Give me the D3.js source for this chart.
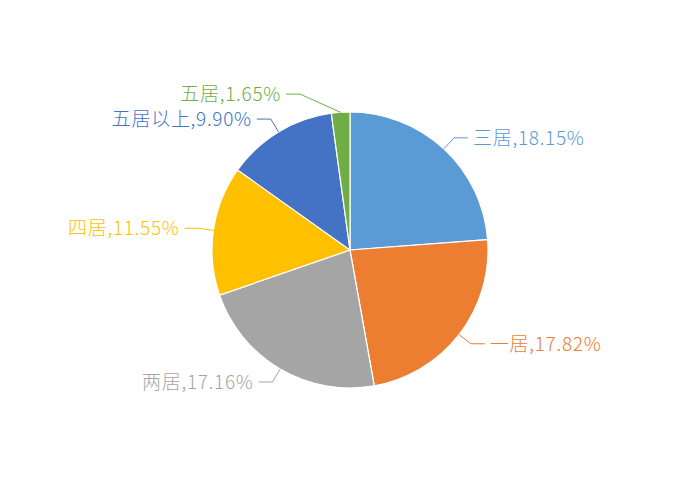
<!DOCTYPE html>
<html>
<head>
<meta charset="utf-8">
<script src="https://cdn.jsdelivr.net/npm/d3@7"></script>
<style>
  body { margin: 0; background: #fff; }
  svg text { font-family: "Noto Sans CJK SC", "Microsoft YaHei", sans-serif; font-weight: 300; }
</style>
</head>
<body>
<svg id="pie" width="700" height="500"></svg>
<script>
var categories = ['三居', '一居', '两居', '四居', '五居以上', '五居'];
var shares = [18.15, 17.82, 17.16, 11.55, 9.90, 1.65];
var colors = ['#5B9BD5', '#ED7D31', '#A5A5A5', '#FFC000', '#4472C4', '#70AD47'];

function drawPie(){
	var svg = d3.select('#pie');
	var cx = 350, cy = 250, r = 138;

	var pie = d3.pie().sort(null).value(d => d.v);
	var arc = d3.arc().innerRadius(0).outerRadius(r);

	var rows = categories.map((c, i) => ({name: c, v: shares[i], color: colors[i]}));
	var arcs = pie(rows);

	var g = svg.append('g').attr('transform', 'translate(' + cx + ',' + cy + ')');

	g.selectAll('path')
		.data(arcs)
		.enter()
		.append('path')
			.attr('d', arc)
			.attr('fill', d => d.data.color)
			.attr('stroke', '#fff')
			.attr('stroke-width', 1.2);

	// work out elbow points first, then nudge labels apart on each side
	var pts = arcs.map(function(d){
		var a = (d.startAngle + d.endAngle) / 2;
		var sx = Math.sin(a), sy = -Math.cos(a);
		var side = sx >= 0 ? 1 : -1;
		var ex = sx * (r + 15);
		if (Math.abs(ex) < 50) ex = side * 50;
		return {d: d, side: side, p0: [sx * r, sy * r], p1: [ex, sy * (r + 15)]};
	});

	[-1, 1].forEach(function(side){
		var s = pts.filter(p => p.side === side).sort((a, b) => b.p1[1] - a.p1[1]);
		for (var i = 1; i < s.length; i++) {
			if (s[i - 1].p1[1] - s[i].p1[1] < 25) s[i].p1[1] = s[i - 1].p1[1] - 25;
		}
	});

	var labels = g.selectAll('g.lbl')
		.data(pts)
		.enter()
		.append('g')
		.attr('class', 'lbl');

	labels.each(function(p){
		var p2 = [p.p1[0] + p.side * 14, p.p1[1]];
		var sel = d3.select(this);
		sel.append('polyline')
			.attr('points', [p.p0, p.p1, p2].map(q => q.join(',')).join(' '))
			.attr('fill', 'none')
			.attr('stroke', p.d.data.color)
			.attr('stroke-width', 1);

		sel.append('text')
			.attr('x', p2[0] + p.side * 5)
			.attr('y', p2[1])
			.attr('dy', '0.36em')
			.attr('text-anchor', p.side > 0 ? 'start' : 'end')
			.attr('fill', p.d.data.color)
			.style('font-size', '19px')
			.style('letter-spacing', '0.7px')
			.text(p.d.data.name + ',' + p.d.data.v.toFixed(2) + '%');
	});
}

drawPie();
</script>
</body>
</html>
